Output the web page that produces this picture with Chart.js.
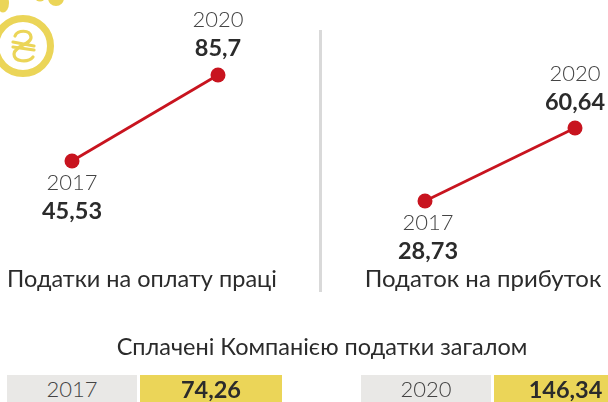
<!DOCTYPE html>
<html><head><meta charset="utf-8">
<script src="https://cdn.jsdelivr.net/npm/chart.js@4"></script>
<style>
html,body{margin:0;padding:0;background:#fff;overflow:hidden}
#page{position:relative;width:608px;height:402px;overflow:hidden;font-family:Lato,sans-serif;color:#2b2b2b}
canvas{position:absolute;top:0}
.cap{position:absolute;font-size:23.5px;line-height:26px;white-space:nowrap;transform:translateX(-50%)}
.cell{position:absolute;top:375px;height:27px;line-height:28px;font-size:23.5px;text-align:center}
.y{background:#e9e8e6;font-weight:300;color:#444;font-size:22px}
.v{background:#ebd558;font-weight:700;color:#2b2b2b}
#rule{position:absolute;left:319px;top:30px;width:3px;height:262px;background:#d9d9d9}
svg{position:absolute;left:0;top:0}
</style></head><body>
<div id="page">
<svg width="120" height="90" viewBox="0 0 120 90">
  <ellipse cx="3" cy="3" rx="6" ry="9.5" fill="#ebd558"/>
  <ellipse cx="40" cy="-3" rx="5" ry="4.5" fill="#ebd558"/>
  <ellipse cx="56" cy="-2" rx="8" ry="8" fill="#ebd558"/>
  <circle cx="23" cy="46" r="27.5" fill="none" stroke="#ebd558" stroke-width="7"/>
  <path d="M15 36 C17 30 30 29 31 37 C32 44 14 46 14 54 C14 62 28 63 33 57 M13 42 L34 46 M13 47 L34 50" fill="none" stroke="#ebd558" stroke-width="3.2" stroke-linecap="round"/>
</svg>
<canvas id="left" style="left:0"></canvas>
<canvas id="right" style="left:300px"></canvas>
<div id="rule"></div>
<div class="cap" style="left:142px;top:265px">Податки на оплату праці</div>
<div class="cap" style="left:483px;top:265px;font-size:24px">Податок на прибуток</div>
<div class="cap" style="left:322px;top:333px">Сплачені Компанією податки загалом</div>
<div class="cell y" style="left:7px;width:130px">2017</div>
<div class="cell v" style="left:140px;width:142px">74,26</div>
<div class="cell y" style="left:361px;width:130px">2020</div>
<div class="cell v" style="left:494px;width:143px">146,34</div>
</div>
<script>
const years = ['2017', '2020'];
const laborTax = [45.53, 85.7];
const profitTax = [28.73, 60.64];
const fmt = v => String(v).replace('.', ',');

const pointLabels = {
  id: 'pointLabels',
  afterDatasetsDraw(chart, args, opts) {
    const { ctx } = chart;
    chart.getDatasetMeta(0).data.forEach((pt, i) => {
      const below = i === 0;
      const yearY = pt.y + (below ? 22 : -opts.up);
      const valY = pt.y + (below ? 50 : -opts.up + 28);
      const dx = below ? opts.dxLow : 0;
      ctx.save();
      ctx.textAlign = 'center';
      ctx.textBaseline = 'middle';
      ctx.fillStyle = '#444';
      ctx.font = '300 22px Lato';
      ctx.fillText(years[i], pt.x + dx, yearY);
      ctx.fillStyle = '#2b2b2b';
      ctx.font = '700 23.5px Lato';
      ctx.fillText(fmt(chart.data.datasets[0].data[i]), pt.x + dx, valY);
      ctx.restore();
    });
  }
};

function panel(id, width, values, padding, labelOpts) {
  const c = document.getElementById(id);
  new Chart(c, {
    type: 'line',
    data: { labels: years, datasets: [{
      data: values, borderColor: '#c8141f', borderWidth: 2.8,
      pointBackgroundColor: '#c8141f', pointBorderColor: '#c8141f',
      pointRadius: 7.5, pointBorderWidth: 0, tension: 0, clip: false
    }]},
    options: {
      responsive: false, animation: false, maintainAspectRatio: false,
      layout: { padding },
      scales: {
        x: { display: false, offset: false },
        y: { display: false, min: values[0], max: values[1] }
      },
      plugins: { legend: { display: false }, tooltip: { enabled: false }, pointLabels: labelOpts }
    },
    plugins: [pointLabels]
  });
}
document.getElementById('left').width = 300; document.getElementById('left').height = 402;
document.getElementById('right').width = 308; document.getElementById('right').height = 402;
panel('left', 300, laborTax, { left: 72, right: 82, top: 75, bottom: 241 }, { up: 55, dxLow: 0 });
panel('right', 308, profitTax, { left: 125, right: 33, top: 128, bottom: 201 }, { up: 54, dxLow: 3 });
</script>
</body></html>
